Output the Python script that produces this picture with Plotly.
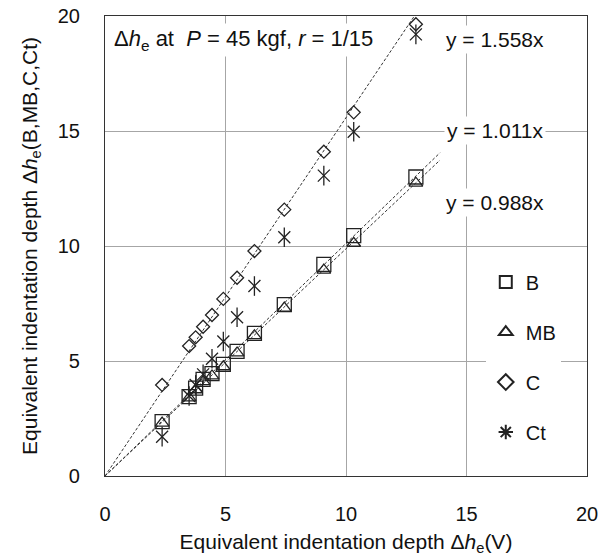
import plotly.graph_objects as go

# x: equivalent indentation depth Δhe(V)
x_v = [2.37, 3.49, 3.76, 4.07, 4.44, 4.91, 5.48, 6.20, 7.44, 9.08, 10.32, 12.90]
b_vals = [2.36, 3.45, 3.82, 4.20, 4.45, 4.85, 5.42, 6.20, 7.45, 9.20, 10.45, 13.00]
mb_vals = [2.30, 3.40, 3.75, 4.10, 4.35, 4.75, 5.35, 6.10, 7.30, 8.95, 10.12, 12.73]
c_vals = [3.96, 5.65, 6.03, 6.49, 7.00, 7.70, 8.62, 9.78, 11.58, 14.10, 15.81, 19.64]
ct_vals = [1.71, 3.48, 3.96, 4.42, 5.10, 5.85, 6.90, 8.26, 10.38, 13.06, 14.97, 19.20]

# trendline slopes (through origin)
slope_names = ["C", "B", "MB"]
slopes = [1.558, 1.011, 0.988]
slope_labels = ["y = 1.558x", "y = 1.011x", "y = 0.988x"]
label_y = [19.0, 15.04, 11.87]
trend_x_end = 13.9

tick_vals = [0, 5, 10, 15, 20]
FONT = "Liberation Sans, Arial, sans-serif"
INK = "#222222"

fig = go.Figure()

# trendlines
for s in slopes:
    fig.add_trace(go.Scatter(
        x=[0, trend_x_end], y=[0, s * trend_x_end], mode="lines",
        line=dict(color="#333333", width=1, dash="3px,2px"),
        showlegend=False, hoverinfo="skip"))

mk_line = dict(color=INK, width=1.3)
fig.add_trace(go.Scatter(x=x_v, y=b_vals, mode="markers", name="B", legendgroup="B",
                         marker=dict(symbol="square-open", size=14, color=INK, line=mk_line)))
fig.add_trace(go.Scatter(x=x_v, y=mb_vals, mode="markers", name="MB", legendgroup="MB",
                         marker=dict(symbol="triangle-up-open", size=12, color=INK, line=mk_line)))
fig.add_trace(go.Scatter(x=x_v, y=c_vals, mode="markers", name="C", legendgroup="C",
                         marker=dict(symbol="diamond-open", size=10, color=INK, line=mk_line)))
# Ct: six-armed star = x + vertical line
fig.add_trace(go.Scatter(x=x_v, y=ct_vals, mode="markers", name="Ct", legendgroup="Ct",
                         showlegend=False,
                         marker=dict(symbol="x-thin-open", size=12, color=INK, line=mk_line)))
fig.add_trace(go.Scatter(x=x_v, y=ct_vals, mode="markers", name="Ct", legendgroup="Ct",
                         showlegend=False,
                         marker=dict(symbol="line-ns-open", size=14, color=INK, line=mk_line)))
fig.add_trace(go.Scatter(x=[None], y=[None], mode="markers", name="Ct", legendgroup="Ct",
                         marker=dict(symbol="asterisk-open", size=12, color=INK, line=mk_line)))

for lab, ly in zip(slope_labels, label_y):
    fig.add_annotation(x=16.2, y=ly, text=lab, showarrow=False,
                       font=dict(family=FONT, size=21, color="#111111"),
                       bgcolor="white", borderpad=2)

fig.add_annotation(x=0.25, y=18.95, xanchor="left",
                   text="Δ<i>h</i><sub>e</sub> at\u00a0\u00a0<i>P</i> = 45 kgf, <i>r</i> = 1/15",
                   showarrow=False, font=dict(family=FONT, size=22, color="#111111"),
                   bgcolor="white", borderpad=2)

axis_common = dict(
    range=[0, 20], tickvals=tick_vals, ticktext=[str(t) for t in tick_vals],
    showgrid=True, gridcolor="#a6a6a6", gridwidth=1,
    showline=True, linecolor="#333333", linewidth=1.2, mirror=True,
    zeroline=False, ticks="", tickfont=dict(family=FONT, size=20, color="#111111"),
    fixedrange=True, automargin=False,
)

fig.update_layout(
    width=607, height=556,
    margin=dict(l=105, r=20, t=16, b=80, autoexpand=False),
    paper_bgcolor="white", plot_bgcolor="white",
    font=dict(family=FONT, color="#111111"),
    xaxis=dict(**axis_common, ticklabelstandoff=20,
               title=dict(text="Equivalent indentation depth Δ<i>h</i><sub>e</sub>(V)",
                          font=dict(family=FONT, size=21), standoff=12)),
    yaxis=dict(**axis_common, ticklabelstandoff=20,
               title=dict(text="Equivalent indentation depth Δ<i>h</i><sub>e</sub>(B,MB,C,Ct)",
                          font=dict(family=FONT, size=21), standoff=14)),
    legend=dict(x=0.79, y=0.464, xanchor="left", yanchor="top",
                bgcolor="white", borderwidth=0, font=dict(family=FONT, size=20),
                tracegroupgap=21, itemsizing="constant"),
    showlegend=True,
)

fig.write_html("out.html")
